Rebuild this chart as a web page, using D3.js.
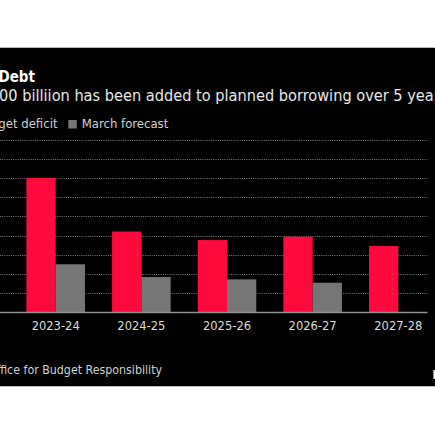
<!DOCTYPE html>
<html>
<head>
<meta charset="utf-8">
<script src="https://cdn.jsdelivr.net/npm/d3@7"></script>
<style>
  html, body { margin: 0; padding: 0; background: #fff; }
  svg { display: block; }
  text { font-family: "DejaVu Sans Condensed", "DejaVu Sans", sans-serif; font-stretch: condensed; }
</style>
</head>
<body>
<svg id="chart" width="435" height="435"></svg>
<script>
const categories = ["2023-24", "2024-25", "2025-26", "2026-27", "2027-28"];
const budgetDeficit = [140.0, 84.3, 75.4, 78.9, 69.2];
const marchForecast = [50.2, 36.9, 34.5, 31.0, null];
const seriesNames = ["Budget deficit", "March forecast"];
const seriesColors = ["#ff0a3c", "#767676"];
const yTicks = [20, 40, 60, 80, 100, 120, 140, 160, 180];
const titleText = "UK Debt";
const subtitleText = "£100 billiion has been added to planned borrowing over 5 years";
const sourceText = "Source: Office for Budget Responsibility";

const svg = d3.select("#chart");
const W = 435, H = 435;

svg.append("rect").attr("x", 0).attr("y", 0).attr("width", W).attr("height", H).attr("fill", "#fff");
svg.append("rect").attr("x", 0).attr("y", 48).attr("width", W).attr("height", 338).attr("fill", "#000");
svg.append("line").attr("x1", 0).attr("x2", W).attr("y1", 47.5).attr("y2", 47.5).attr("stroke", "#bbb").attr("stroke-width", 1);
svg.append("line").attr("x1", 0).attr("x2", W).attr("y1", 386.5).attr("y2", 386.5).attr("stroke", "#bbb").attr("stroke-width", 1);

// position text so that a given substring starts at a given x
function placeFrom(sel, prefixLen, targetX) {
  const node = sel.node();
  const off = prefixLen > 0 ? node.getSubStringLength(0, prefixLen) : 0;
  sel.attr("x", targetX - off);
}

// Title
const title = svg.append("text").attr("y", 82.3).attr("fill", "#fff")
  .attr("font-size", 15).attr("font-weight", "bold").text(titleText);
placeFrom(title, 3, -1.5);

// Subtitle
const sub = svg.append("text").attr("y", 101).attr("fill", "#e8e8e8")
  .attr("font-size", 16.2).text(subtitleText);
placeFrom(sub, 2, -1);

// Legend
const legY = 128.3;
const leg1 = svg.append("text").attr("y", legY).attr("fill", "#d0d0d0")
  .attr("font-size", 13).attr("text-anchor", "end").attr("x", 57.5).text(seriesNames[0]);
const leg1W = leg1.node().getComputedTextLength();
svg.append("rect").attr("x", 57.5 - leg1W - 5 - 8.5).attr("y", 120).attr("width", 8.5).attr("height", 8.5).attr("fill", seriesColors[0]);
svg.append("rect").attr("x", 68.3).attr("y", 120).attr("width", 8.5).attr("height", 8.5).attr("fill", seriesColors[1]);
svg.append("text").attr("y", legY).attr("fill", "#d0d0d0")
  .attr("font-size", 13).attr("x", 81.7).text(seriesNames[1]);

// Scales
const y = d3.scaleLinear().domain([0, 180]).range([312.5, 139.6]);
const step = 85.65;
const r0 = 55.7 - step / 2;
const x = d3.scaleBand().domain(categories).range([r0, r0 + step * categories.length])
  .paddingInner(0.316).paddingOuter(0.158);
const xs = d3.scaleBand().domain(seriesNames).range([0, x.bandwidth()]).padding(0);

// Gridlines
svg.append("g").selectAll("line").data(yTicks).join("line")
  .attr("x1", 0).attr("x2", 427.5)
  .attr("y1", d => Math.round(y(d)) + 0.5).attr("y2", d => Math.round(y(d)) + 0.5)
  .attr("stroke", "#7a7a7a").attr("stroke-width", 1).attr("stroke-dasharray", "1,1.2");

// Bars
const rows = categories.map((c, i) => ({ cat: c, vals: [budgetDeficit[i], marchForecast[i]] }));
const groups = svg.append("g").selectAll("g").data(rows).join("g")
  .attr("transform", d => `translate(${x(d.cat)},0)`);
groups.selectAll("rect")
  .data(d => d.vals.map((v, j) => ({ v, s: seriesNames[j], c: seriesColors[j] })).filter(e => e.v != null))
  .join("rect")
  .attr("x", e => xs(e.s)).attr("width", xs.bandwidth())
  .attr("y", e => y(e.v)).attr("height", e => y(0) - y(e.v))
  .attr("fill", e => e.c);

// Axis baseline
svg.append("line").attr("x1", 0).attr("x2", 427.5).attr("y1", y(0)).attr("y2", y(0))
  .attr("stroke", "#8f8f8f").attr("stroke-width", 1.6);

// X axis labels
const xAxis = svg.append("g").attr("transform", `translate(0,${y(0)})`)
  .call(d3.axisBottom(x).tickSize(0).tickPadding(8));
xAxis.select(".domain").remove();
xAxis.selectAll("text").attr("fill", "#dcdcdc").attr("font-size", 12.8)
  .attr("font-family", "\"DejaVu Sans Condensed\", \"DejaVu Sans\", sans-serif");

// Source
const src = svg.append("text").attr("y", 374).attr("fill", "#d0d0d0")
  .attr("font-size", 12.3).text(sourceText);
placeFrom(src, 10, 0);

// Logo fragment
svg.append("text").attr("x", 432.5).attr("y", 378.5).attr("fill", "#fff")
  .attr("font-size", 12).attr("font-weight", "bold").text("Bloomberg");
</script>
</body>
</html>
